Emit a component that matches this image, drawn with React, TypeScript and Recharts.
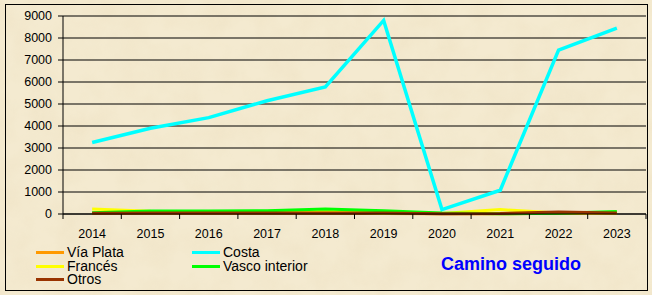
import React from "react";
import { LineChart, Line, XAxis, YAxis, CartesianGrid } from "recharts";

const years = ["2014", "2015", "2016", "2017", "2018", "2019", "2020", "2021", "2022", "2023"];
const viaPlata = [30, 30, 30, 30, 30, 20, 10, 10, 30, 20];
const costa = [3250, 3900, 4380, 5150, 5780, 8800, 200, 1080, 7450, 8450];
const frances = [230, 120, 110, 110, 160, 20, 20, 200, 50, 40];
const vascoInterior = [60, 140, 140, 150, 230, 150, 50, 10, 30, 110];
const otros = [30, 40, 40, 40, 50, 40, 10, 20, 90, 40];
const yTicks = [0, 1000, 2000, 3000, 4000, 5000, 6000, 7000, 8000, 9000];

const series = [
  { key: "Vía Plata", values: viaPlata, color: "#FF9900", width: 3 },
  { key: "Costa", values: costa, color: "#00FFFF", width: 3.5 },
  { key: "Francés", values: frances, color: "#FFFF00", width: 3 },
  { key: "Vasco interior", values: vascoInterior, color: "#00FF00", width: 3 },
  { key: "Otros", values: otros, color: "#993300", width: 3 },
];

const data = years.map((y, i) => {
  const row: Record<string, string | number> = { year: y };
  series.forEach((s) => (row[s.key] = s.values[i]));
  return row;
});

const W = 652;
const H = 295;
const Y_AXIS_W = 63;
const MARGIN = { top: 16, right: 6, left: 0, bottom: 0 };
const BAND = (W - Y_AXIS_W - MARGIN.right - MARGIN.left) / years.length;
const FONT = "'Liberation Sans', Arial, sans-serif";

const XTick = (props: any) => {
  const { x, y, payload, index } = props;
  const last = index === years.length - 1;
  return (
    <g>
      <line x1={x - BAND / 2} x2={x - BAND / 2} y1={y} y2={y + 5} stroke="#000" strokeWidth={1} />
      {last && <line x1={x + BAND / 2} x2={x + BAND / 2} y1={y} y2={y + 5} stroke="#000" strokeWidth={1} />}
      <text x={x} y={y + 23.5} textAnchor="middle" fontSize={12.5} fontFamily={FONT} fill="#000">
        {payload.value}
      </text>
    </g>
  );
};

export default function App() {
  return (
    <div style={{ position: "absolute", left: 0, top: 0, width: W, height: H, overflow: "hidden" }}>
      <svg width={W} height={H} style={{ position: "absolute", left: 0, top: 0 }}>
        <defs>
          <filter id="parch" x="0" y="0" width="100%" height="100%">
            <feTurbulence type="fractalNoise" baseFrequency="0.035" numOctaves={4} seed={7} result="n" />
            <feColorMatrix
              in="n"
              type="matrix"
              values="0 0 0 0 0.78  0 0 0 0 0.66  0 0 0 0 0.42  0 0 0 -1.1 0.75"
            />
          </filter>
        </defs>
        <rect x={0} y={0} width={W} height={H} fill="#F4EAD0" />
        <rect x={0} y={0} width={W} height={H} filter="url(#parch)" opacity={0.3} />
      </svg>
      <div
        style={{
          position: "absolute",
          left: 5,
          top: 4,
          width: 641,
          height: 285,
          border: "1px solid #000",
        }}
      />
      <div style={{ position: "absolute", left: 0, top: 0 }}>
        <LineChart width={W} height={H} data={data} margin={MARGIN}>
          <CartesianGrid vertical={false} stroke="#000" strokeWidth={1} />
          <XAxis
            dataKey="year"
            height={H - MARGIN.top - 198}
            tickLine={false}
            tickSize={0}
            tickMargin={0}
            padding={{ left: BAND / 2, right: BAND / 2 }}
            axisLine={{ stroke: "#000", strokeWidth: 1 }}
            tick={<XTick />}
            interval={0}
          />
          <YAxis
            width={Y_AXIS_W}
            domain={[0, 9000]}
            ticks={yTicks}
            interval={0}
            tickSize={5}
            tickMargin={6}
            axisLine={{ stroke: "#000", strokeWidth: 1 }}
            tickLine={{ stroke: "#000", strokeWidth: 1 }}
            tick={{ fontSize: 12.5, fontFamily: FONT, fill: "#000" }}
          />
          {series.map((s) => (
            <Line
              key={s.key}
              dataKey={s.key}
              type="linear"
              stroke={s.color}
              strokeWidth={s.width}
              dot={false}
              activeDot={false}
              isAnimationActive={false}
              strokeLinejoin="miter"
            />
          ))}
        </LineChart>
      </div>
      {series.map((s, i) => {
        const col = i % 2;
        const row = Math.floor(i / 2);
        const left = col === 0 ? 36 : 192;
        const cy = 252.7 + row * 13.6;
        return (
          <div
            key={s.key}
            style={{
              position: "absolute",
              left,
              top: cy - 6.5,
              height: 13,
              display: "flex",
              alignItems: "center",
              lineHeight: "13px",
            }}
          >
            <div style={{ width: 28, height: 3, background: s.color }} />
            <span style={{ marginLeft: 3, fontFamily: FONT, fontSize: 14, lineHeight: "13px", color: "#000", whiteSpace: "nowrap" }}>
              {s.key}
            </span>
          </div>
        );
      })}
      <div
        style={{
          position: "absolute",
          left: 441,
          top: 254,
          fontFamily: FONT,
          fontWeight: "bold",
          fontSize: 18,
          color: "#0000FF",
          whiteSpace: "nowrap",
        }}
      >
        Camino seguido
      </div>
    </div>
  );
}
